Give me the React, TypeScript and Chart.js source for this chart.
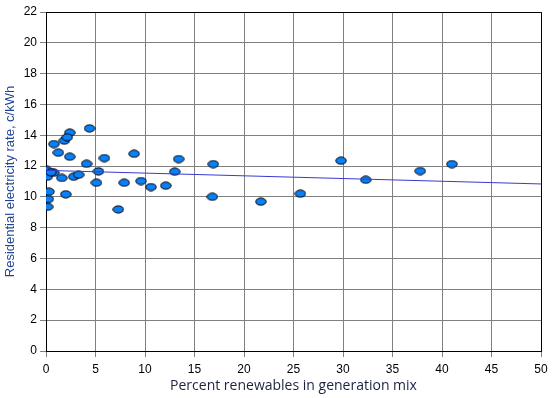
import React, { useEffect, useRef } from "react";
import { Chart, registerables } from "chart.js";

Chart.register(...registerables);

const renewablesPct: number[] = [
  4.4, 2.4, 1.85, 2.15, 0.8, 1.25, 2.4, 5.9, 8.9, 13.4, 4.1, 0.07, 0.8, 0.13, 1.6, 2.8, 3.3, 5.3, 13.0,
  5.1, 7.9, 9.6, 10.6, 12.1, 0.3, 2.0, 0.23, 0.17, 7.3, 16.9, 29.8, 32.3, 16.8, 21.7, 25.7, 37.8, 41.0, 0.5,
];
const ratesCents: number[] = [
  14.45, 14.17, 13.65, 13.87, 13.43, 12.87, 12.61, 12.52, 12.8, 12.46, 12.15, 11.75, 11.57, 11.31, 11.23,
  11.31, 11.44, 11.66, 11.64, 10.92, 10.92, 11.03, 10.64, 10.73, 10.34, 10.17, 9.86, 9.36, 9.19, 12.13,
  12.35, 11.11, 10.01, 9.69, 10.21, 11.68, 12.13, 11.6,
];
const trendX: number[] = [0, 50];
const trendY: number[] = [11.72, 10.84];

const xTitle = "Percent renewables in generation mix";
const yTitle = "Residential electricity rate, c/kWh";

function makeEllipse(): HTMLCanvasElement {
  const c = document.createElement("canvas");
  c.width = 12;
  c.height = 9;
  const ctx = c.getContext("2d")!;
  ctx.beginPath();
  ctx.ellipse(6, 4.5, 5.2, 3.6, 0, 0, Math.PI * 2);
  ctx.fillStyle = "#0780FA";
  ctx.fill();
  ctx.lineWidth = 1;
  ctx.strokeStyle = "#000000";
  ctx.stroke();
  return c;
}

const borderPlugin = {
  id: "plotBorder",
  afterDatasetsDraw(chart: any) {
    const { ctx, chartArea } = chart;
    ctx.save();
    ctx.strokeStyle = "#000000";
    ctx.lineWidth = 1;
    ctx.beginPath();
    ctx.moveTo(Math.round(chartArea.left) + 0.5, Math.round(chartArea.top) + 0.5);
    ctx.lineTo(Math.round(chartArea.right) + 0.5, Math.round(chartArea.top) + 0.5);
    ctx.lineTo(Math.round(chartArea.right) + 0.5, Math.round(chartArea.bottom) + 0.5);
    ctx.stroke();
    ctx.restore();
  },
};

export default function App() {
  const ref = useRef<HTMLCanvasElement>(null);
  useEffect(() => {
    document.body.style.margin = "0";
    const marker = makeEllipse();
    const chart = new Chart(ref.current!, {
      type: "scatter",
      data: {
        datasets: [
          {
            label: "Trend",
            type: "line",
            data: trendX.map((x, i) => ({ x, y: trendY[i] })),
            borderColor: "#3A3AD0",
            borderWidth: 1,
            pointRadius: 0,
            showLine: true,
            fill: false,
            order: 0,
          } as any,
          {
            label: "States",
            data: renewablesPct.map((x, i) => ({ x, y: ratesCents[i] })),
            pointStyle: marker as any,
            pointRadius: 5,
            order: 1,
          },
        ],
      },
      options: {
        animation: false,
        responsive: false,
        layout: { padding: { left: 0, top: 12, right: 14, bottom: 0 } },
        plugins: { legend: { display: false }, tooltip: { enabled: false } },
        scales: {
          x: {
            type: "linear",
            min: 0,
            max: 50,
            ticks: {
              stepSize: 5,
              color: "#000000",
              font: { family: "'Liberation Sans', Arial", size: 12 },
              padding: 5,
              maxRotation: 0,
            },
            grid: { color: "#808080", tickLength: 6, drawTicks: true },
            border: { color: "#000000" },
            title: {
              display: true,
              text: xTitle,
              color: "#1C2340",
              font: { family: "'Open Sans', 'Noto Sans'", size: 14 },
              padding: { top: 0, bottom: 4 },
            },
            afterFit(scale: any) {
              scale.height = 47;
            },
          },
          y: {
            type: "linear",
            min: 0,
            max: 22,
            ticks: {
              stepSize: 2,
              color: "#000000",
              font: { family: "'Liberation Sans', Arial", size: 12 },
              padding: 3,
            },
            grid: { color: "#808080", tickLength: 6, drawTicks: true },
            border: { color: "#000000" },
            title: {
              display: true,
              text: yTitle,
              color: "#1F4598",
              font: { family: "'Liberation Sans', Arial", size: 13 },
              padding: { top: 3, bottom: 0 },
            },
            afterFit(scale: any) {
              scale.width = 46;
            },
          },
        },
      },
      plugins: [borderPlugin],
    });
    return () => chart.destroy();
  }, []);
  return <canvas ref={ref} width={555} height={398} style={{ display: "block" }} />;
}
